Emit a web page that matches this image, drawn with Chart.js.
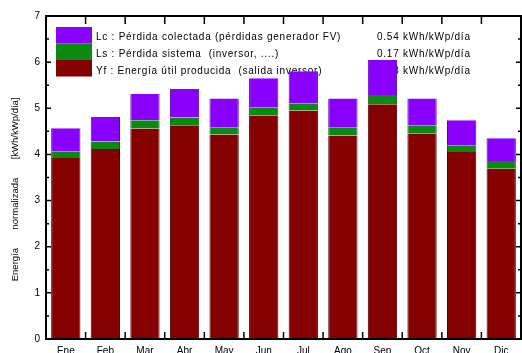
<!DOCTYPE html>
<html><head><meta charset="utf-8">
<script src="https://cdn.jsdelivr.net/npm/chart.js@4/dist/chart.umd.min.js"></script>
<style>html,body{margin:0;padding:0;background:#fff;overflow:hidden}#wrap{width:522px;height:353px;position:relative}</style>
</head><body><div id="wrap"><canvas id="c" width="522" height="353"></canvas></div>
<script>
const months = ['Ene','Feb','Mar','Abr','May','Jun','Jul','Ago','Sep','Oct','Nov','Dic'];
const yfValues = [3.92,4.12,4.56,4.63,4.43,4.84,4.95,4.41,5.09,4.45,4.05,3.69];
const lsValues = [0.15,0.16,0.18,0.17,0.15,0.18,0.16,0.17,0.20,0.18,0.14,0.17];
const lcValues = [0.50,0.53,0.57,0.62,0.63,0.63,0.69,0.63,0.76,0.58,0.55,0.49];
const yTickValues = [0,1,2,3,4,5,6,7];
const legendLabels = [
  'Lc : Pérdida colectada (pérdidas generador FV)',
  'Ls : Pérdida sistema  (inversor, ....)',
  'Yf : Energía útil producida  (salida inversor)'
];
const legendValues = ['0.54 kWh/kWp/día','0.17 kWh/kWp/día','4.43 kWh/kWp/día'];
const seriesColors = ['#8a00ff','#0b8a12','#850000'];
const seriesBorders = ['#5a00a8','#056008','#4e0000'];

const FONT = 'Liberation Sans, Arial, sans-serif';

const legendPlugin = {
  id: 'pvLegend',
  beforeDatasetsDraw(chart) {
    const ctx = chart.ctx;
    ctx.save();
    const sx = 56, sw = 36, sy = 27, sh = 16.5;
    for (let i = 0; i < 3; i++) {
      ctx.fillStyle = seriesColors[i];
      ctx.fillRect(sx, sy + i * sh, sw, sh);
    }
    ctx.font = '10px ' + FONT;
    ctx.letterSpacing = '0.75px';
    ctx.fillStyle = '#000';
    ctx.textBaseline = 'middle';
    for (let i = 0; i < 3; i++) {
      const ty = 37 + i * 17.3;
      ctx.fillText(legendLabels[i], 96, ty);
      ctx.fillText(legendValues[i], 377, ty);
    }
    ctx.restore();
  }
};

const framePlugin = {
  id: 'frame',
  afterDatasetsDraw(chart) {
    const {ctx, chartArea: {left, right, top, bottom}, scales: {x, y}} = chart;
    ctx.save();
    ctx.strokeStyle = '#000';
    ctx.lineWidth = 2;
    ctx.strokeRect(left, top, right - left, bottom - top);
    ctx.lineWidth = 1.5;
    ctx.beginPath();
    for (let v = 0; v <= 7; v += 0.5) {
      const py = y.getPixelForValue(v);
      const len = Number.isInteger(v) ? 5 : 3;
      ctx.moveTo(left, py); ctx.lineTo(left + len, py);
      ctx.moveTo(right, py); ctx.lineTo(right - len, py);
    }
    for (let i = 1; i < months.length; i++) {
      const px = (x.getPixelForValue(i - 1) + x.getPixelForValue(i)) / 2;
      ctx.moveTo(px, bottom); ctx.lineTo(px, bottom - 7);
      ctx.moveTo(px, top); ctx.lineTo(px, top + 8);
    }
    ctx.stroke();
    ctx.restore();
  }
};

const datasets = [
  {label: 'Yf', data: yfValues, backgroundColor: seriesColors[2], borderColor: seriesBorders[2]},
  {label: 'Ls', data: lsValues, backgroundColor: seriesColors[1], borderColor: seriesBorders[1]},
  {label: 'Lc', data: lcValues, backgroundColor: seriesColors[0], borderColor: seriesBorders[0]}
].map(d => Object.assign(d, {borderWidth: {left: 1, right: 1, top: 0, bottom: 0}, barPercentage: 0.74, categoryPercentage: 1.0}));

new Chart(document.getElementById('c'), {
  type: 'bar',
  data: {labels: months, datasets},
  options: {
    responsive: false,
    devicePixelRatio: 1,
    animation: false,
    layout: {padding: {top: 16, right: 1, left: 0, bottom: 0}},
    plugins: {legend: {display: false}, tooltip: {enabled: false}},
    scales: {
      x: {
        stacked: true,
        grid: {display: false, drawTicks: false},
        border: {display: false},
        ticks: {color: '#000', font: {family: FONT, size: 10}, padding: 6, maxRotation: 0, autoSkip: false},
        afterFit(s) { s.height = 14; }
      },
      y: {
        stacked: true,
        min: 0, max: 7,
        grid: {display: false, drawTicks: false},
        border: {display: false},
        afterBuildTicks(s) { s.ticks = yTickValues.map(v => ({value: v})); },
        ticks: {color: '#000', font: {family: FONT, size: 10}, padding: 6},
        title: {
          display: true,
          text: 'Energía       normalizada       [kWh/kWp/día]         ',
          color: '#000',
          font: {family: FONT, size: 9.5},
          padding: {top: 10, bottom: 0}
        },
        afterFit(s) { s.width = 46; }
      }
    }
  },
  plugins: [legendPlugin, framePlugin]
});
</script>
</body></html>
